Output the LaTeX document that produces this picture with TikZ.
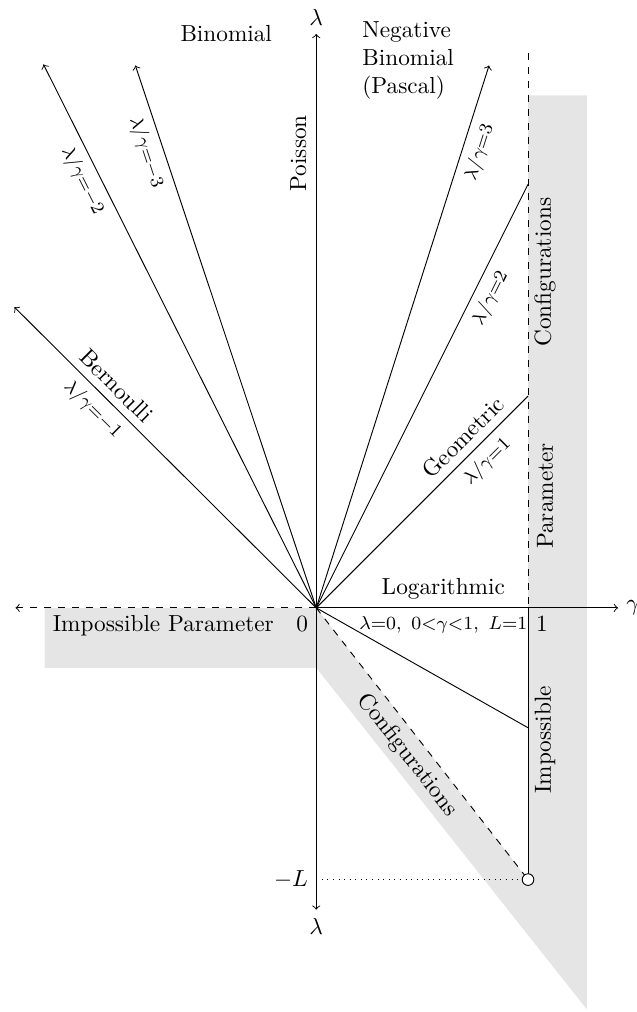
\documentclass[tikz,border=0pt]{standalone}
\usepackage{tikz}
\usetikzlibrary{shapes.misc, shapes, arrows}
\usetikzlibrary{positioning}

\begin{document}
\begin{tikzpicture}[x=3.2cm, y=3.2cm]
		\draw[use as bounding box, transparent] (-1.491,-1.906) rectangle (1.509,2.868);

		% Define the macro.
		% 1st argument: End point of the ratio line (it always starts in the origin).
		% 2nd argument: Arrow option --> use -> for lines leaving the picture, leave blank otherwise.
		% 3rd argument: Position of the labels along the line.
		% 4th argument: Name of the distribution, placed above the line.
		% 5th argument: Ratio placed below the line.

		\newcommand{\ratioLine}[5]{
			\draw[#2] (O) -- (#1) node[pos=#3, sloped, above] {#4} node[pos=#3, sloped, below, font=\footnotesize] {#5};
		}

		\coordinate (O) at (0,0);           % origin
		\coordinate (one) at (1,0);         % gamma = 1
		\coordinate (minusL) at (0,-1.283); % lambda = -L
		\coordinate (corner) at (1,-1.283);

		% Impossible regions
		\fill[gray!20] (-1.283,0) -- (O) -- (corner) -- (1,2.42) -- (1.278,2.42) -- (1.278,-1.896) -- (0,-0.283) -- (-1.283,-0.283) -- cycle;

		% Axes
		\draw[->] (O) -- (1.425,0) node[right] (gam) {$\gamma$};
		\draw[->, dashed] (O) -- (-1.42,0);
		\draw[->] (O) -- (0,2.71) node[above] (lamup) {$\lambda$};
		\draw[->] (O) -- (0,-1.425) node[below] (lamdown) {$\lambda$};

		% gamma = 1 and the lower border
		\draw[dashed] (1,2.62) -- (one);
		\draw (one) -- (corner);
		\draw[dashed] (O) -- (corner) node[pos=0.5, sloped, below] (confdiag) {Configurations};
		\draw[dotted] (minusL) node[left] (Llab) {$-L$} -- (corner);
		\draw (O) -- (1,-0.566);

		% Ratio lines
		\ratioLine{-1.425,1.42}{->}{0.7}{Bernoulli}{$\lambda/\gamma{=}{-}1$}
		\ratioLine{-1.288,2.566}{->}{0.8}{}{$\lambda/\gamma{=}{-}2$}
		\ratioLine{-0.854,2.561}{->}{0.85}{}{$\lambda/\gamma{=}{-}3$}
		\ratioLine{0.816,2.561}{->}{0.85}{}{$\lambda/\gamma{=}3$}
		\ratioLine{1,2}{}{0.75}{}{$\lambda/\gamma{=}2$}
		\ratioLine{1,1}{}{0.75}{Geometric}{$\lambda/\gamma{=}1$}

		\node[circle, draw, fill=white, inner sep=0pt, minimum size=5pt] (Lpt) at (corner) {};

		% Names
		\node (binom) at (-0.425,2.712) {Binomial};
		\node[align=left] (negbin) at (0.434,2.585) {Negative\\Binomial\\(Pascal)};
		\node[rotate=90] (poisson) at (-0.085,2.146) {Poisson};
		\node[rotate=90] (config) at (1.08,1.585) {Configurations};
		\node[rotate=90] (param) at (1.08,0.528) {Parameter};
		\node[rotate=90] (imposs) at (1.08,-0.623) {Impossible};
		\node (impar) at (-0.722,-0.085) {Impossible Parameter};
		\node[below left] (zero) at (O) {$0$};
		\node[below right] (unit) at (one) {$1$};
		\node[above] (loga) at (0.6,0) {Logarithmic};
		\node[below, font=\footnotesize] (logcond) at (0.6,0) {$\lambda{=}0,\ 0{<}\gamma{<}1,\ L{=}1$};

\end{tikzpicture}
\end{document}
